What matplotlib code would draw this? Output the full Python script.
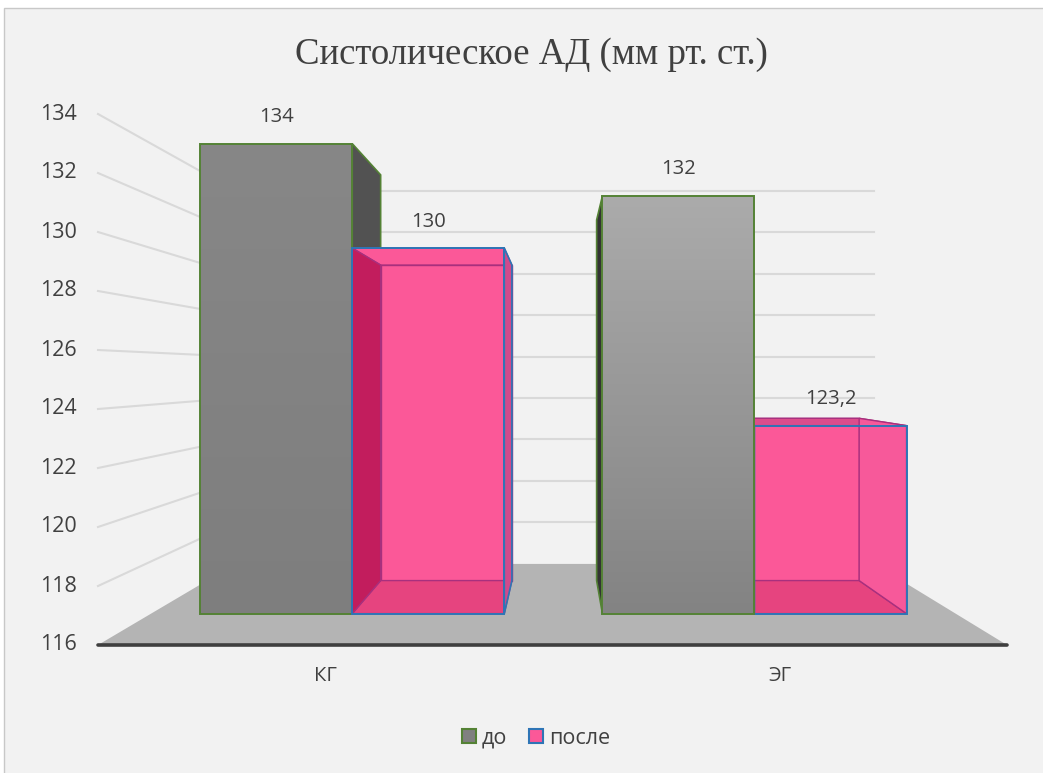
import matplotlib.pyplot as plt
import numpy as np
from matplotlib.patches import Polygon, Rectangle, Patch
from matplotlib.colors import LinearSegmentedColormap

categories = ['КГ', 'ЭГ']
series = ['до', 'после']
before = [134, 132]
after = [130, 123.2]
ticks = list(range(116, 136, 2))

plt.rcParams['font.family'] = ['Open Sans', 'DejaVu Sans']
TXT = '#404040'

# perspective frame, in pixels of the figure
VX, VY = 560, 372          # vanishing point
X0, CAT_W = 98, 454.5      # left end of category axis, width of one category
Y0, PX_UNIT = 645, 29.5    # baseline of value axis, pixels per unit
VMIN = 116
S_WALL, S_BAR_F, S_BAR_B = 0.703, 0.885, 0.764
BAR_W = 0.378


def proj(u, v, s):
    X = X0 + u * CAT_W
    Y = Y0 - (v - VMIN) * PX_UNIT
    return VX + s * (X - VX), VY + s * (Y - VY)


def quad(pts):
    return [proj(*p) for p in pts]


def box_faces(u0, u1, v1, v0=VMIN, sf=S_BAR_F, sb=S_BAR_B):
    return {
        'front': quad([(u0, v0, sf), (u1, v0, sf), (u1, v1, sf), (u0, v1, sf)]),
        'back': quad([(u0, v0, sb), (u1, v0, sb), (u1, v1, sb), (u0, v1, sb)]),
        'left': quad([(u0, v0, sf), (u0, v1, sf), (u0, v1, sb), (u0, v0, sb)]),
        'right': quad([(u1, v0, sf), (u1, v1, sf), (u1, v1, sb), (u1, v0, sb)]),
        'top': quad([(u0, v1, sf), (u1, v1, sf), (u1, v1, sb), (u0, v1, sb)]),
        'bottom': quad([(u0, v0, sf), (u1, v0, sf), (u1, v0, sb), (u0, v0, sb)]),
    }


def face(ax, pts, fc, ec, lw, z):
    ax.add_patch(Polygon(pts, closed=True, facecolor=fc, edgecolor=ec, lw=lw,
                         joinstyle='miter', zorder=z))


def gradient_face(ax, pts, c_top, c_bot, edge, z):
    poly = Polygon(pts, closed=True, facecolor='none', edgecolor=edge, lw=1.4,
                   zorder=z + 0.1)
    ax.add_patch(poly)
    xs = [p[0] for p in pts]
    ys = [p[1] for p in pts]
    cmap = LinearSegmentedColormap.from_list('g', [c_top, c_bot])
    grad = np.linspace(0, 1, 256).reshape(-1, 1)
    im = ax.imshow(grad, cmap=cmap, extent=(min(xs), max(xs), max(ys), min(ys)),
                   aspect='auto', zorder=z, interpolation='bilinear')
    im.set_clip_path(poly)


fig = plt.figure(figsize=(10.43, 7.73), dpi=100)
fig.patch.set_facecolor('white')
ax = fig.add_axes([0, 0, 1, 1])

ax.add_patch(Rectangle((4, 8), 1100, 800, facecolor='#f2f2f2',
                       edgecolor='#c8c8c8', lw=1, zorder=0))

# walls: gridlines on back wall and left side wall
for v in ticks[1:]:
    (xa, ya), (xb, yb) = proj(0, v, S_WALL), proj(2, v, S_WALL)
    ax.plot([xa, xb], [ya, yb], color='#d9d9d9', lw=1.5, zorder=1)
    xf, yf = proj(0, v, 1)
    ax.plot([xf, xa], [yf, ya], color='#d9d9d9', lw=1.5, zorder=1)

# floor
floor = quad([(0, VMIN, 1), (2, VMIN, 1), (2, VMIN, S_WALL), (0, VMIN, S_WALL)])
face(ax, floor, '#b4b4b4', 'none', 0, 2)
(xa, ya), (xb, yb) = proj(0, VMIN, 1), proj(2, VMIN, 1)
ax.plot([xa, xb], [ya, yb], color='#3f3f3f', lw=2.6, solid_capstyle='round', zorder=3)

# bars, painted from the one farthest from the vanishing point inwards
gray_grad = [('#878787', '#7e7e7e'), ('#ababab', '#838383')]
green, blue, purple = '#548235', '#2e75b6', '#a8307e'

bars = []
for i in range(len(categories)):
    for j, vals in enumerate([before, after]):
        u0 = i + 0.5 - BAR_W + j * BAR_W
        u1 = u0 + BAR_W
        cx = proj((u0 + u1) / 2, VMIN, S_BAR_F)[0]
        bars.append((abs(cx - VX), i, j, u0, u1, vals[i], cx))
bars.sort(key=lambda b: -b[0])

z = 5
for _, i, j, u0, u1, val, cx in bars:
    f = box_faces(u0, u1, val)
    left_of_vp = cx < VX
    if j == 0:
        side = 'right' if left_of_vp else 'left'
        face(ax, f[side], '#525252' if left_of_vp else '#333333', green, 1.2, z)
        gradient_face(ax, f['front'], *gray_grad[i], green, z + 1)
    else:
        inner, outer = ('left', 'right') if left_of_vp else ('right', 'left')
        top_above_eye = f['front'][2][1] < VY
        face(ax, f['back'], '#fb5898', purple, 1.0, z)
        face(ax, f['bottom'], '#e6447f', purple, 1.0, z + 0.1)
        face(ax, f['top'], '#fb5898' if top_above_eye else '#dc4d8c', purple, 1.0, z + 0.2)
        face(ax, f[inner], '#c21d5d' if inner == 'left' else '#f7599a', purple, 1.0, z + 0.3)
        face(ax, f[outer], '#cf4a8c', blue, 1.2, z + 0.4)
        face(ax, f['front'], 'none', blue, 1.4, z + 0.5)
    # value label above the front face
    tx, ty = proj((u0 + u1) / 2, val, S_BAR_F)
    ax.annotate(f'{val:g}'.replace('.', ','), (tx, ty), xytext=(0, 19),
                textcoords='offset points', ha='center', va='center',
                fontsize=14.5, color=TXT, zorder=20)
    z += 2

# value axis labels
for v in ticks:
    x, y = proj(0, v, 1)
    ax.text(x - 21, y, str(v), ha='right', va='center', fontsize=15.5, color=TXT)

# category labels
for i, c in enumerate(categories):
    x, y = proj(i + 0.5, VMIN, 1)
    ax.text(x, y + 31, c, ha='center', va='center', fontsize=14.5, color=TXT)

ax.text(531, 55, 'Систолическое АД (мм рт. ст.)', ha='center', va='center',
        fontfamily='Liberation Serif', fontsize=26.5, color=TXT)

handles = [Patch(facecolor='#808080', edgecolor=green, lw=1.5, label=series[0]),
           Patch(facecolor='#fb5898', edgecolor=blue, lw=1.5, label=series[1])]
fig.legend(handles=handles, loc='center', bbox_to_anchor=(0.514, 1 - 738 / 773),
           ncol=2, frameon=False, fontsize=15.5, handlelength=0.65, handleheight=0.65,
           handletextpad=0.3, columnspacing=1.0, labelcolor=TXT)

ax.set_xlim(0, 1043)
ax.set_ylim(773, 0)
ax.axis('off')

fig.savefig('out.png', dpi=100, facecolor=fig.get_facecolor())
